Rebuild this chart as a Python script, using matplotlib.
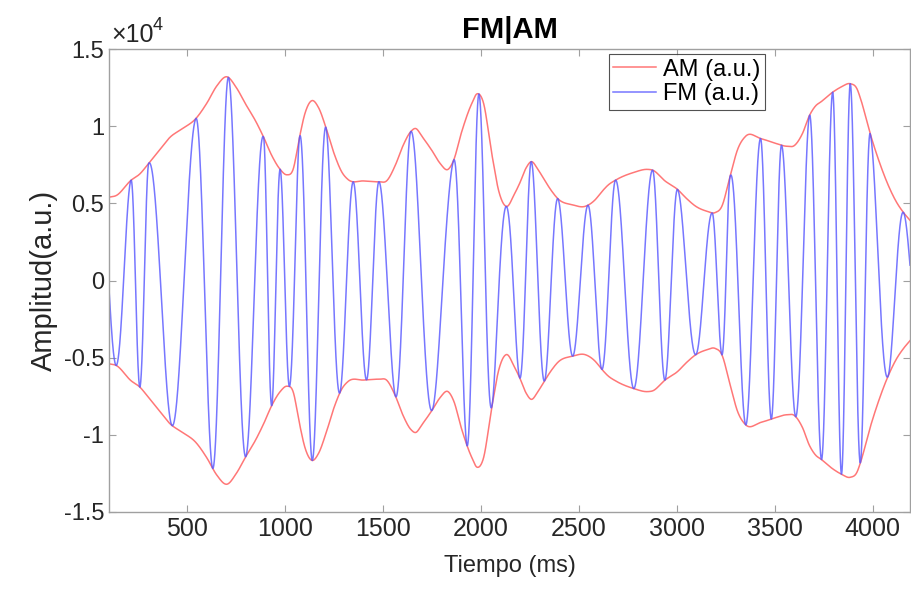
import numpy as np
import matplotlib
matplotlib.use("Agg")
import matplotlib.pyplot as plt

plt.rcParams['font.family'] = ['Liberation Sans', 'DejaVu Sans']

# AM envelope (time in ms, amplitude in a.u.)
env_t = [100, 136, 213, 257, 303, 360, 413, 470, 544, 600, 650, 702, 750, 799,
         850, 889, 931, 974, 1008, 1040, 1073, 1100, 1135, 1170, 1208, 1250,
         1290, 1320, 1400, 1478, 1517, 1563, 1600, 1641, 1665, 1700, 1750,
         1790, 1831, 1860, 1900, 1950, 1980, 2010, 2056, 2090, 2129, 2170,
         2197, 2230, 2256, 2290, 2324, 2360, 2392, 2468, 2530, 2580, 2616,
         2650, 2686, 2779, 2850, 2876, 2939, 3003, 3050, 3097, 3150, 3195,
         3229, 3271, 3310, 3351, 3427, 3500, 3560, 3600, 3640, 3677, 3707,
         3738, 3795, 3840, 3885, 3920, 3937, 3987, 4030, 4078, 4120, 4157, 4190]
env_amp = [5400, 5500, 6500, 6900, 7600, 8500, 9300, 9800, 10500, 11500, 12600,
           13200, 12500, 11400, 10300, 9300, 8100, 7200, 6850, 7200, 9300,
           10800, 11650, 11200, 9900, 8200, 7000, 6550, 6450, 6400, 6450, 7500,
           8700, 9650, 9850, 9300, 8400, 7600, 7200, 7800, 9600, 11400, 12100,
           11600, 8100, 5800, 4800, 5600, 6300, 7300, 7700, 7200, 6500, 5800,
           5300, 4900, 4800, 5200, 5750, 6200, 6500, 7000, 7200, 7150, 6450,
           5900, 5300, 4800, 4500, 4400, 4800, 6730, 8500, 9350, 9200, 8900,
           8700, 8750, 9500, 10700, 11300, 11600, 12200, 12550, 12750, 12400,
           11800, 9500, 7800, 6200, 5100, 4400, 3900]

# times of the FM extrema (first one is a trough, then they alternate)
fm_ext_t = [136, 213, 257, 303, 422, 544, 629, 710, 799, 889, 931, 974, 1021,
            1073, 1138, 1208, 1279, 1347, 1415, 1478, 1563, 1641, 1750, 1860,
            1928, 1989, 2056, 2129, 2197, 2256, 2324, 2392, 2468, 2545, 2616,
            2686, 2779, 2876, 2939, 3003, 3097, 3180, 3229, 3271, 3351, 3427,
            3482, 3534, 3606, 3677, 3738, 3795, 3840, 3885, 3937, 3987, 4078,
            4157]

t_start, t_end = 100, 4190


def hermite(x, xk, yk):
    # smooth curve through the knots (cubic Hermite, centred slopes)
    xk = np.asarray(xk, float)
    yk = np.asarray(yk, float)
    m = np.gradient(yk, xk)
    i = np.clip(np.searchsorted(xk, x) - 1, 0, len(xk) - 2)
    h = xk[i + 1] - xk[i]
    s = (x - xk[i]) / h
    h00 = 2 * s**3 - 3 * s**2 + 1
    h10 = s**3 - 2 * s**2 + s
    h01 = -2 * s**3 + 3 * s**2
    h11 = s**3 - s**2
    return h00 * yk[i] + h10 * h * m[i] + h01 * yk[i + 1] + h11 * h * m[i + 1]


t = np.linspace(t_start, t_end, 8000)
env = hermite(t, env_t, env_amp)
k = np.pi * np.arange(1, len(fm_ext_t) + 1)
ext = np.array(fm_ext_t, dtype=float)
phase = np.interp(t, ext, k)
lo = t < ext[0]
phase[lo] = k[0] + (t[lo] - ext[0]) * np.pi / (ext[1] - ext[0])
hi = t > ext[-1]
phase[hi] = k[-1] + (t[hi] - ext[-1]) * np.pi / (ext[-1] - ext[-2])
fm = env * np.cos(phase)

fig = plt.figure(figsize=(9.11, 5.91), dpi=100)
ax = fig.add_axes([109 / 911, 1 - 512 / 591, 801 / 911, 463 / 591])

red = '#ff5555'
blue = '#5555ff'
ax.plot(t, env, color=red, lw=1.1, alpha=0.8, label='AM (a.u.)')
ax.plot(t, -env, color=red, lw=1.1, alpha=0.8)
ax.plot(t, fm, color=blue, lw=1.1, alpha=0.8, label='FM (a.u.)')

ax.set_xlim(t_start, t_end)
ax.set_ylim(-15000, 15000)
xt = [500, 1000, 1500, 2000, 2500, 3000, 3500, 4000]
ax.set_xticks(xt)
ax.set_xticklabels([str(v) for v in xt], fontsize=18, color='#262626')
yt = [-15000, -10000, -5000, 0, 5000, 10000, 15000]
ax.set_yticks(yt)
ax.set_yticklabels(['-1.5', '-1', '-0.5', '0', '0.5', '1', '1.5'],
                   fontsize=17, color='#262626')
ax.tick_params(direction='in', top=True, right=True, length=5,
               color='#a0a0a0', width=0.8)
for s in ax.spines.values():
    s.set_color('#a0a0a0')
    s.set_linewidth(1.0)

fig.text(111 / 911, 1 - 42 / 591, '\u00d710', fontsize=18, color='#262626',
         ha='left', va='baseline')
fig.text(153 / 911, 1 - 30 / 591, '4', fontsize=13, color='#262626',
         ha='left', va='baseline')

ax.set_title('FM|AM', fontsize=21, fontweight='bold', pad=8)
ax.set_xlabel('Tiempo (ms)', fontsize=17, color='#262626', labelpad=10)
ax.set_ylabel('Amplitud(a.u.)', fontsize=21, color='#262626', labelpad=4)

leg = ax.legend(loc='upper right', bbox_to_anchor=(765 / 911, 1 - 54 / 591),
                bbox_transform=fig.transFigure, fontsize=17, frameon=True,
                fancybox=False, handlelength=1.8, handletextpad=0.3,
                borderpad=0.2, labelspacing=0.1, borderaxespad=0)
leg.get_frame().set_edgecolor('#262626')
leg.get_frame().set_linewidth(0.8)

plt.savefig('out.png', dpi=100)
